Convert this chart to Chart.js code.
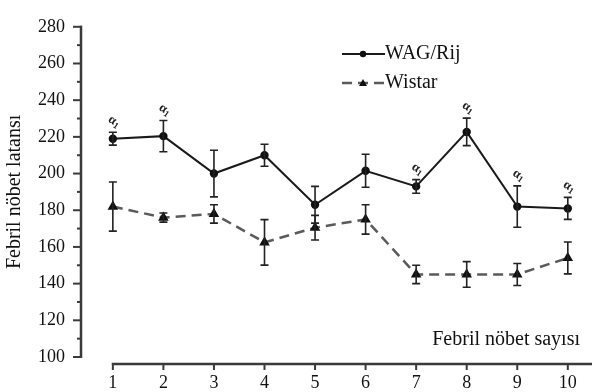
<!DOCTYPE html>
<html>
<head>
<meta charset="utf-8">
<script src="https://cdn.jsdelivr.net/npm/chart.js@4.4.0/dist/chart.umd.min.js"></script>
<style>
  html, body { margin: 0; padding: 0; background: #fff; }
</style>
</head>
<body>
<canvas id="chart" width="592" height="392"></canvas>
<script>
// febril nöbet sayısı (x) ve ortalama latans ± hata
const seizureNo = [1, 2, 3, 4, 5, 6, 7, 8, 9, 10];
const wagMean = [219, 220.4, 200, 210, 183, 201.5, 193, 222.7, 182, 181];
const wagErr = [3.5, 8.5, 12.7, 6, 10, 9, 3.7, 7.5, 11.3, 6];
const wistarMean = [182, 176, 178, 162.5, 170.5, 175, 145, 145, 145, 154];
const wistarErr = [13.4, 2.5, 5, 12.4, 6.7, 8, 5, 7, 6, 8.7];
const wagSignif = [true, true, false, false, false, false, true, true, true, true];
const yTickValues = [100, 110, 120, 130, 140, 150, 160, 170, 180, 190, 200, 210, 220, 230, 240, 250, 260, 270, 280];
const yTickLabels = [100, 120, 140, 160, 180, 200, 220, 240, 260, 280];

const FONT = '"Liberation Serif", "Times New Roman", serif';
Chart.defaults.font.family = FONT;
Chart.defaults.color = '#111';

const errors = [wagErr, wistarErr];

// hata çubukları, a1 işaretleri, eksen çizgileri, lejant
const drawExtras = {
    id: 'drawExtras',
    afterDatasetsDraw(chart) {
        const ctx = chart.ctx;
        const xs = chart.scales.x;
        const ys = chart.scales.y;
        const area = chart.chartArea;

        ctx.save();
        // y ekseni
        ctx.strokeStyle = '#3a3a3a';
        ctx.lineWidth = 2.5;
        ctx.beginPath();
        ctx.moveTo(area.left, ys.getPixelForValue(280) - 1);
        ctx.lineTo(area.left, ys.getPixelForValue(100) + 1);
        ctx.stroke();
        ctx.lineWidth = 2;
        yTickValues.forEach(v => {
            const py = ys.getPixelForValue(v);
            const len = yTickLabels.includes(v) ? 8 : 4;
            ctx.beginPath();
            ctx.moveTo(area.left - len, py);
            ctx.lineTo(area.left + 1, py);
            ctx.stroke();
        });

        // x ekseni
        const lineY = area.bottom + 7;
        ctx.lineWidth = 2.5;
        ctx.beginPath();
        ctx.moveTo(xs.getPixelForValue(seizureNo[0]) - 1, lineY);
        ctx.lineTo(chart.width, lineY);
        ctx.stroke();
        ctx.lineWidth = 2;
        seizureNo.forEach(v => {
            const px = xs.getPixelForValue(v);
            ctx.beginPath();
            ctx.moveTo(px, lineY - 1);
            ctx.lineTo(px, lineY + 6);
            ctx.stroke();
        });

        // hata çubukları
        ctx.strokeStyle = '#222';
        ctx.lineWidth = 1.6;
        chart.data.datasets.forEach((ds, i) => {
            ds.data.forEach((pt, j) => {
                const px = xs.getPixelForValue(pt.x);
                const top = ys.getPixelForValue(pt.y + errors[i][j]);
                const bot = ys.getPixelForValue(pt.y - errors[i][j]);
                ctx.beginPath();
                ctx.moveTo(px, top);
                ctx.lineTo(px, bot);
                ctx.moveTo(px - 4, top);
                ctx.lineTo(px + 4, top);
                ctx.moveTo(px - 4, bot);
                ctx.lineTo(px + 4, bot);
                ctx.stroke();
            });
        });

        // a1 işaretleri
        ctx.fillStyle = '#222';
        wagSignif.forEach((s, j) => {
            if (!s) return;
            const px = xs.getPixelForValue(seizureNo[j]);
            const top = ys.getPixelForValue(wagMean[j] + wagErr[j]);
            ctx.save();
            ctx.translate(px + 1, top - 11);
            ctx.rotate(0.6);
            ctx.font = 'bold 13px ' + FONT;
            ctx.textAlign = 'right';
            ctx.textBaseline = 'middle';
            ctx.fillText('α', 2, 0);
            ctx.font = 'bold 9px ' + FONT;
            ctx.textAlign = 'left';
            ctx.fillText('1', 2, 3);
            ctx.restore();
        });

        // x ekseni başlığı
        ctx.fillStyle = '#111';
        ctx.font = '20px ' + FONT;
        ctx.textAlign = 'right';
        ctx.textBaseline = 'middle';
        ctx.fillText('Febril nöbet sayısı', 580, 340);

        // lejant
        const items = [
            { ds: chart.data.datasets[0], y: 54 },
            { ds: chart.data.datasets[1], y: 83 }
        ];
        items.forEach(it => {
            ctx.strokeStyle = it.ds.borderColor;
            ctx.lineWidth = it.ds.borderWidth;
            ctx.setLineDash(it.ds.borderDash || []);
            ctx.beginPath();
            ctx.moveTo(342, it.y);
            ctx.lineTo(385, it.y);
            ctx.stroke();
            ctx.setLineDash([]);
            ctx.fillStyle = '#111';
            ctx.beginPath();
            if (it.ds.pointStyle === 'triangle') {
                ctx.moveTo(363, it.y - 4);
                ctx.lineTo(367, it.y + 3);
                ctx.lineTo(359, it.y + 3);
                ctx.closePath();
            } else {
                ctx.arc(363, it.y, 3.2, 0, Math.PI * 2);
            }
            ctx.fill();
            ctx.font = '20px ' + FONT;
            ctx.textAlign = 'left';
            ctx.textBaseline = 'middle';
            ctx.fillText(it.ds.label, 385, it.y);
        });
        ctx.restore();
    }
};

new Chart(document.getElementById('chart'), {
    type: 'line',
    data: {
        datasets: [{
            label: 'WAG/Rij',
            data: seizureNo.map((x, i) => ({ x: x, y: wagMean[i] })),
            borderColor: '#1a1a1a',
            borderWidth: 2,
            pointStyle: 'circle',
            pointRadius: 3.2,
            pointBackgroundColor: '#111',
            pointBorderColor: '#111',
            tension: 0
        }, {
            label: 'Wistar',
            data: seizureNo.map((x, i) => ({ x: x, y: wistarMean[i] })),
            borderColor: '#5a5a5a',
            borderWidth: 2.5,
            borderDash: [10, 6],
            pointStyle: 'triangle',
            pointRadius: 3.6,
            pointBackgroundColor: '#111',
            pointBorderColor: '#111',
            tension: 0
        }]
    },
    options: {
        responsive: false,
        animation: false,
        devicePixelRatio: 1,
        layout: { padding: { top: 19, right: 2, left: 0, bottom: 0 } },
        plugins: {
            legend: { display: false },
            tooltip: { enabled: false }
        },
        scales: {
            x: {
                type: 'linear',
                min: 0.37,
                max: 10.29,
                grid: { display: false, drawTicks: false },
                border: { display: false },
                afterBuildTicks: scale => {
                    scale.ticks = seizureNo.map(v => ({ value: v }));
                },
                afterFit: scale => { scale.height = 35; },
                ticks: {
                    font: { size: 18 },
                    color: '#111',
                    padding: 15,
                    maxRotation: 0,
                    callback: v => String(v)
                }
            },
            y: {
                min: 100,
                max: 280,
                grid: { display: false, drawTicks: false },
                border: { display: false },
                afterBuildTicks: scale => {
                    scale.ticks = yTickLabels.map(v => ({ value: v }));
                },
                afterFit: scale => { scale.width = 81; },
                ticks: {
                    font: { size: 18 },
                    color: '#111',
                    padding: 16
                },
                title: {
                    display: true,
                    text: 'Febril nöbet latansı',
                    font: { size: 20 },
                    color: '#111',
                    padding: { top: 3, bottom: 0 }
                }
            }
        }
    },
    plugins: [drawExtras]
});
</script>
</body>
</html>
